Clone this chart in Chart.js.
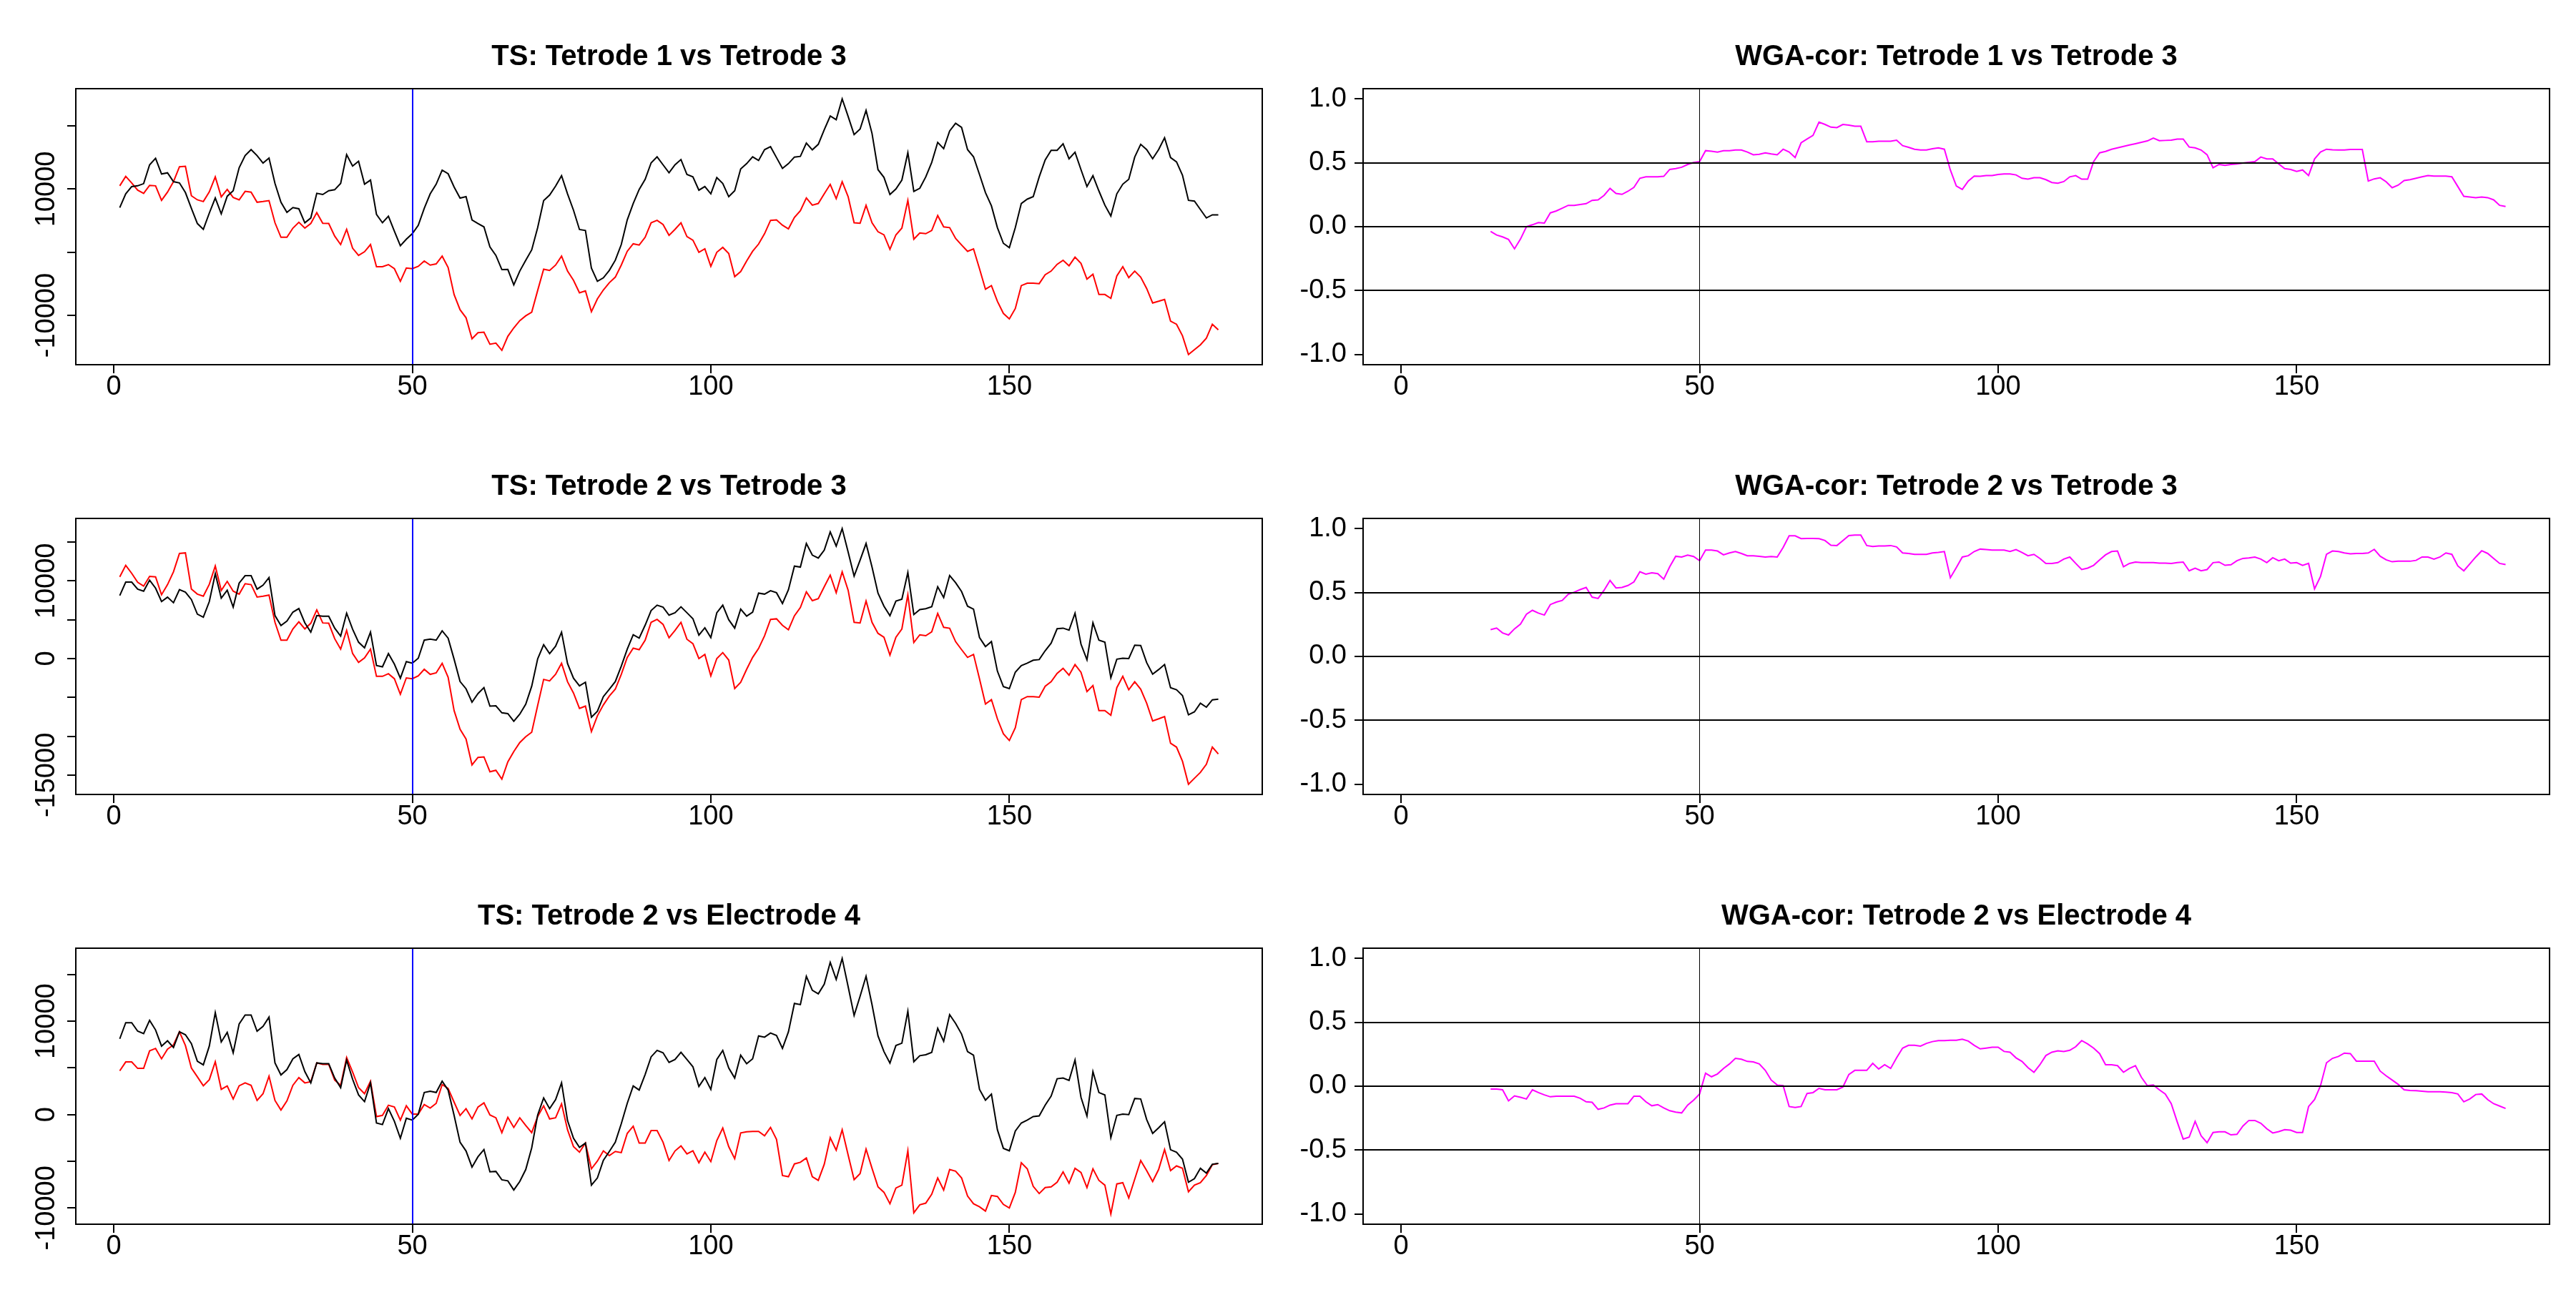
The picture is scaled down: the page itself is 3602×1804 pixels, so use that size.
<!DOCTYPE html>
<html lang="en">
<head>
<meta charset="UTF-8">
<title>TS and WGA-cor: tetrodes</title>
<script src="https://cdn.jsdelivr.net/npm/chart.js"></script>
<style>
  html, body { margin: 0; padding: 0; background: #fff; }
  body { width: 3602px; height: 1804px; position: relative; overflow: hidden; }
  .panel { position: absolute; width: 1801px; height: 601px; }
</style>
</head>
<body>
<div class="panel" style="left:0px;top:0px"><canvas id="ts1" width="1801" height="601"></canvas></div>
<div class="panel" style="left:1800px;top:0px"><canvas id="wga1" width="1801" height="601"></canvas></div>
<div class="panel" style="left:0px;top:601px"><canvas id="ts2" width="1801" height="601"></canvas></div>
<div class="panel" style="left:1800px;top:601px"><canvas id="wga2" width="1801" height="601"></canvas></div>
<div class="panel" style="left:0px;top:1202px"><canvas id="ts3" width="1801" height="601"></canvas></div>
<div class="panel" style="left:1800px;top:1202px"><canvas id="wga3" width="1801" height="601"></canvas></div>

<script>
// raw signals, time index 1..185
const tetrode1 = [
  7070, 9250, 10400, 10520, 10860, 13840, 14880, 12390, 12580, 11170,
  10980, 9450, 6960, 4550, 3630, 6200, 8600, 6080, 8870, 9750,
  13380, 15300, 16250, 15300, 14110, 14910, 10900, 7920, 6310, 7070,
  6880, 4670, 5430, 9330, 9140, 9750, 9900, 10900, 15450, 13650,
  14420, 10780, 11430, 6000, 4670, 5700, 3330, 1030, 2070, 2940,
  4280, 6960, 9250, 10780, 13000, 12430, 10330, 8570, 8800, 5120,
  4550, 4020, 840, -500, -2750, -2720, -5160, -2980, -1260, 380,
  3900, 8180, 9060, 10480, 12120, 9250, 6650, 3600, 3440, -2520,
  -4590, -4050, -2870, -1260, 1220, 5120, 7720, 9940, 11550, 14150,
  15110, 13840, 12580, 13840, 14680, 12310, 11930, 9830, 10400, 9250,
  11820, 10900, 8800, 9750, 13190, 14030, 15110, 14530, 16250, 16710,
  14990, 13270, 14030, 15070, 15180, 17280, 16210, 17090, 19390, 21570,
  20990, 24280, 21490, 18620, 19500, 22450, 18810, 13080, 11850, 9140,
  10020, 11430, 15760, 9640, 10130, 11930, 14230, 17400, 16410, 19200,
  20420, 19770, 16250, 15110, 12310, 9450, 7340, 3900, 1420, 730,
  3900, 7720, 8410, 8800, 11930, 14610, 16140, 16140, 17170, 14800,
  15830, 13080, 10400, 12120, 9710, 7460, 5740, 9250, 10780, 11550,
  15070, 17090, 16250, 14800, 16250, 18130, 14990, 14300, 12200, 8220,
  8110, 6770, 5430, 5930, 5930
];
const tetrode2 = [
  8120, 9840, 9840, 8940, 8680, 10100, 9070, 7340, 7910, 7190,
  8870, 8560, 7600, 5720, 5330, 7340, 10930, 7780, 8810, 6620,
  9720, 10670, 10670, 8940, 9460, 10440, 5540, 4250, 4820, 5980,
  6440, 4610, 3400, 5540, 5460, 5460, 3920, 2890, 5850, 3790,
  2110, 1390, 3400, -900, -1060, 640, -720, -2530, -390, -590,
  50, 2370, 2500, 2370, 3580, 2630, -80, -2960, -3890, -5620,
  -4510, -3740, -6130, -6080, -6980, -7090, -8070, -7160, -5880, -3560,
  -30, 1780, 640, 1600, 3400, -640, -2530, -3510, -3040, -7550,
  -6780, -4900, -3940, -2960, -980, 1210, 3070, 2630, 4300, 6190,
  6880, 6620, 5590, 5900, 6670, 5900, 5130, 3020, 3970, 2710,
  5900, 6880, 5000, 3920, 6370, 5460, 5980, 8430, 8300, 8740,
  8480, 7090, 8870, 11910, 11780, 14820, 13320, 12940, 13970, 16310,
  14480, 16730, 13710, 10620, 12680, 14820, 11780, 8430, 6750, 5520,
  7400, 7650, 11080, 5670, 6310, 6420, 6670, 9250, 7860, 10700,
  9770, 8630, 6750, 6370, 2710, 1550, 2190, -1620, -3610, -3870,
  -1750, -900, -590, -210, -130, 1010, 1980, 3840, 3920, 3660,
  5850, 1860, -150, 4610, 2370, 2110, -2470, -80, 50, 0,
  1730, 1680, -520, -2010, -1420, -770, -3760, -4020, -4770, -7240,
  -6860, -5750, -6260, -5310, -5230
];
const tetrode3 = [
  10520, 12010, 10980, 9830, 9330, 10590, 10520, 8220, 9520, 11170,
  13540, 13610, 8950, 8300, 8030, 9560, 11930, 8760, 9940, 8680,
  8300, 9640, 9520, 7920, 8030, 8180, 4670, 2370, 2370, 3820,
  4740, 3820, 4550, 6270, 4590, 4550, 2560, 1220, 3630, 650,
  -500, 80, 1220, -2290, -2290, -1950, -2600, -4590, -2490, -2600,
  -2220, -1380, -2030, -1840, -610, -2410, -6690, -9100, -10360, -13690,
  -12730, -12660, -14570, -14380, -15530, -13310, -11970, -10820, -10060, -9480,
  -6040, -2680, -2870, -2030, -610, -2980, -4440, -6420, -6120, -9410,
  -7380, -5970, -4820, -3940, -2030, 150, 1340, 1150, 2370, 4670,
  5050, 4400, 2680, 3630, 4670, 2490, 1910, 0, 540, -2220,
  0, 770, -190, -3860, -3060, -1380, 150, 1300, 2940, 5050,
  5120, 4280, 3710, 5510, 6580, 8600, 7460, 7720, 9250, 10750,
  8490, 11170, 8800, 4670, 4590, 7420, 4670, 3250, 2750, 460,
  2750, 3820, 8220, 2070, 3060, 2940, 3440, 5810, 4020, 3900,
  2180, 1150, 150, 540, -2600, -5850, -5280, -7760, -9680, -10550,
  -8910, -5280, -4900, -4900, -4970, -3560, -2980, -1910, -1260, -2140,
  -770, -1760, -4250, -3480, -6690, -6690, -7300, -3750, -2290, -4020,
  -2980, -3940, -5740, -8030, -7760, -7460, -10900, -11400, -13230, -16180,
  -15410, -14650, -13610, -11400, -12280
];
const electrode4 = [
  4690, 5640, 5640, 4950, 4950, 6830, 7090, 5980, 7010, 7470,
  8870, 7400, 5000, 4050, 3090, 3740, 5670, 2710, 3070, 1680,
  3090, 3400, 3140, 1520, 2240, 4120, 1520, 490, 1470, 3140,
  3970, 3400, 3530, 5540, 5390, 5390, 3710, 3140, 6110, 4560,
  2890, 2240, 3580, -210, -80, 1010, 820, -590, 950, 50,
  50, 1080, 700, 1210, 3220, 2810, 1340, -80, 640, -460,
  820, 1260, -30, -340, -1930, -280, -1370, -340, -1160, -1930,
  -210, 950, -460, -340, 1160, -1620, -3430, -4020, -3040, -5800,
  -4970, -3890, -4380, -3940, -4070, -2010, -1240, -3040, -3040, -1700,
  -1700, -2960, -4920, -3890, -3350, -4200, -3870, -5150, -4020, -5030,
  -2780, -1440, -3430, -4720, -1960, -1830, -1800, -1800, -2270, -1370,
  -2650, -6520, -6650, -5280, -5100, -4640, -6650, -7040, -5310, -2470,
  -3810, -1620, -4330, -6960, -6310, -3690, -5750, -7730, -8320, -9540,
  -7860, -7550, -3870, -10510, -9660, -9480, -8530, -6780, -8070, -5880,
  -6060, -6780, -8710, -9540, -9870, -10330, -8660, -8760, -9610, -10000,
  -8320, -5150, -5800, -7680, -8450, -7810, -7730, -7240, -6130, -7340,
  -5750, -6190, -7810, -5800, -7040, -7550, -10640, -7420, -7290, -8920,
  -6910, -4920, -6000, -7160, -5880, -3740, -6000, -5490, -5750, -8270,
  -7550, -7290, -6520, -5360, -5230
];

// windowed correlation, time index 15..185
const wgaT1T3 = [
  -0.037, -0.065, -0.08, -0.10, -0.173, -0.097, 0.0, 0.015, 0.032, 0.028,
  0.108, 0.123, 0.145, 0.167, 0.167, 0.173, 0.18, 0.206, 0.21, 0.245,
  0.30, 0.26, 0.253, 0.277, 0.307, 0.379, 0.39, 0.39, 0.39, 0.394,
  0.448, 0.455, 0.465, 0.487, 0.502, 0.509, 0.595, 0.59, 0.584, 0.595,
  0.595, 0.60, 0.60, 0.584, 0.563, 0.567, 0.578, 0.569, 0.563, 0.606,
  0.584, 0.541, 0.656, 0.686, 0.714, 0.818, 0.80, 0.779, 0.775, 0.80,
  0.794, 0.786, 0.786, 0.665, 0.665, 0.669, 0.669, 0.669, 0.677, 0.634,
  0.621, 0.606, 0.60, 0.60, 0.61, 0.617, 0.606, 0.444, 0.318, 0.292,
  0.357, 0.396, 0.394, 0.40, 0.40, 0.409, 0.413, 0.413, 0.405, 0.379,
  0.372, 0.383, 0.383, 0.368, 0.346, 0.34, 0.353, 0.39, 0.40, 0.372,
  0.372, 0.509, 0.578, 0.589, 0.606, 0.617, 0.628, 0.639, 0.649, 0.66,
  0.671, 0.693, 0.673, 0.675, 0.677, 0.686, 0.686, 0.623, 0.617, 0.60,
  0.563, 0.461, 0.487, 0.48, 0.487, 0.491, 0.498, 0.504, 0.509, 0.545,
  0.53, 0.53, 0.491, 0.455, 0.448, 0.433, 0.444, 0.40, 0.53, 0.584,
  0.606, 0.602, 0.60, 0.60, 0.604, 0.604, 0.604, 0.357, 0.374, 0.383,
  0.351, 0.305, 0.325, 0.361, 0.368, 0.379, 0.39, 0.40, 0.396, 0.396,
  0.396, 0.39, 0.314, 0.238, 0.232, 0.227, 0.232, 0.227, 0.21, 0.167,
  0.158
];
const wgaT2T3 = [
  0.21, 0.222, 0.184, 0.168, 0.216, 0.253, 0.33, 0.361, 0.339, 0.324,
  0.406, 0.425, 0.438, 0.486, 0.503, 0.523, 0.54, 0.464, 0.454, 0.518,
  0.594, 0.536, 0.54, 0.555, 0.583, 0.663, 0.644, 0.654, 0.648, 0.605,
  0.702, 0.784, 0.778, 0.793, 0.782, 0.749, 0.832, 0.832, 0.825, 0.795,
  0.81, 0.821, 0.806, 0.788, 0.788, 0.784, 0.778, 0.782, 0.778, 0.853,
  0.944, 0.944, 0.922, 0.924, 0.924, 0.922, 0.907, 0.87, 0.868, 0.907,
  0.946, 0.95, 0.95, 0.868, 0.86, 0.864, 0.864, 0.868, 0.857, 0.81,
  0.806, 0.799, 0.799, 0.799, 0.81, 0.814, 0.821, 0.616, 0.695, 0.778,
  0.788, 0.821, 0.84, 0.836, 0.832, 0.832, 0.832, 0.821, 0.836, 0.814,
  0.788, 0.799, 0.767, 0.728, 0.728, 0.734, 0.762, 0.778, 0.728, 0.68,
  0.691, 0.713, 0.756, 0.795, 0.821, 0.825, 0.702, 0.728, 0.739, 0.734,
  0.734, 0.734, 0.73, 0.73, 0.728, 0.734, 0.739, 0.67, 0.691, 0.67,
  0.68, 0.734, 0.739, 0.713, 0.717, 0.749, 0.767, 0.771, 0.778, 0.762,
  0.734, 0.773, 0.749, 0.762, 0.73, 0.734, 0.713, 0.728, 0.529, 0.626,
  0.799, 0.825, 0.821, 0.81, 0.803, 0.806, 0.806, 0.81, 0.838, 0.784,
  0.756, 0.741, 0.745, 0.745, 0.745, 0.752, 0.778, 0.778, 0.762, 0.778,
  0.81, 0.799, 0.708, 0.67, 0.724, 0.778, 0.827, 0.806, 0.767, 0.728,
  0.719
];
const wgaT2E4 = [
  -0.022, -0.022, -0.028, -0.115, -0.076, -0.087, -0.10, -0.028, -0.05, -0.068,
  -0.083, -0.078, -0.078, -0.078, -0.078, -0.094, -0.122, -0.126, -0.181, -0.17,
  -0.148, -0.137, -0.137, -0.137, -0.078, -0.078, -0.122, -0.153, -0.144, -0.17,
  -0.192, -0.203, -0.209, -0.148, -0.109, -0.061, 0.102, 0.074, 0.096, 0.139,
  0.174, 0.218, 0.211, 0.194, 0.19, 0.174, 0.124, 0.048, 0.009, 0.004,
  -0.159, -0.166, -0.159, -0.057, -0.05, -0.017, -0.028, -0.028, -0.028, -0.007,
  0.092, 0.124, 0.124, 0.124, 0.179, 0.135, 0.168, 0.139, 0.222, 0.298,
  0.32, 0.32, 0.314, 0.335, 0.349, 0.357, 0.357, 0.359, 0.359, 0.368,
  0.353, 0.32, 0.292, 0.298, 0.305, 0.305, 0.272, 0.266, 0.222, 0.194,
  0.146, 0.109, 0.168, 0.24, 0.266, 0.277, 0.272, 0.281, 0.309, 0.357,
  0.331, 0.298, 0.255, 0.168, 0.168, 0.161, 0.109, 0.139, 0.161, 0.07,
  0.004, 0.009, -0.028, -0.061, -0.137, -0.279, -0.414, -0.399, -0.275, -0.388,
  -0.442, -0.362, -0.357, -0.357, -0.381, -0.377, -0.312, -0.268, -0.268, -0.29,
  -0.333, -0.366, -0.355, -0.34, -0.344, -0.362, -0.362, -0.159, -0.105, 0.004,
  0.183, 0.218, 0.233, 0.259, 0.255, 0.196, 0.196, 0.196, 0.196, 0.118,
  0.081, 0.048, 0.015, -0.028, -0.033, -0.035, -0.039, -0.044, -0.044, -0.044,
  -0.046, -0.05, -0.061, -0.122, -0.1, -0.065, -0.061, -0.105, -0.137, -0.155,
  -0.174
];

// axis ticks and labels
const xTicks = [0, 50, 100, 150];
const ts1Ticks = [-10000, 0, 10000, 20000];
const ts1Labels = ['-10000', '', '10000', ''];
const ts2Ticks = [-15000, -10000, -5000, 0, 5000, 10000, 15000];
const ts2Labels = ['-15000', '', '', '0', '', '10000', ''];
const ts3Ticks = [-10000, -5000, 0, 5000, 10000, 15000];
const ts3Labels = ['-10000', '', '0', '', '10000', ''];
const wgaTicks = [-1, -0.5, 0, 0.5, 1];
const wgaLabels = ['-1.0', '-0.5', '0.0', '0.5', '1.0'];
const wgaRefLines = [-0.5, 0, 0.5];
const markTime = 50;

const FONT = '"Liberation Sans", Arial, Helvetica, sans-serif';
Chart.defaults.font.family = FONT;
Chart.defaults.color = '#000';

const tsTime = tetrode1.map((v, i) => i + 1);
const wgaTime = wgaT1T3.map((v, i) => i + 15);

function line(values, times, color) {
  return {
    data: values.map((v, i) => ({ x: times[i], y: v })),
    borderColor: color,
    borderWidth: 2,
    pointRadius: 0,
    fill: false,
    tension: 0
  };
}

// R style: data range plus 4% each side
function rRange(...arrs) {
  const all = [].concat(...arrs);
  const lo = Math.min(...all), hi = Math.max(...all);
  const d = (hi - lo) * 0.04;
  return [lo - d, hi + d];
}
const xRange = rRange([1, tsTime.length]);

// keep straight lines on whole pixels so they stay crisp
function snap(p, w) {
  return w % 2 ? Math.floor(p) + 0.5 : Math.round(p);
}

const panelPlugin = {
  id: 'panel',
  afterDatasetsDraw(chart, args, o) {
    const { ctx, chartArea: a } = chart;
    const x = chart.scales.x, y = chart.scales.y;
    ctx.save();
    ctx.strokeStyle = '#000';
    ctx.lineWidth = 2;
    (o.hLines || []).forEach(v => {
      const py = snap(y.getPixelForValue(v), 2);
      ctx.beginPath(); ctx.moveTo(a.left, py); ctx.lineTo(a.right, py); ctx.stroke();
    });
    const px = snap(x.getPixelForValue(markTime), o.vWidth);
    ctx.strokeStyle = o.vColor;
    ctx.lineWidth = o.vWidth;
    ctx.beginPath(); ctx.moveTo(px, a.top); ctx.lineTo(px, a.bottom); ctx.stroke();
    ctx.restore();
  },
  afterDraw(chart, args, o) {
    const { ctx, chartArea: a } = chart;
    ctx.save();
    ctx.strokeStyle = '#000';
    ctx.lineWidth = 2;
    ctx.strokeRect(a.left, a.top, a.right - a.left, a.bottom - a.top);
    ctx.fillStyle = '#000';
    ctx.font = 'bold 40px ' + FONT;
    ctx.textAlign = 'center';
    ctx.textBaseline = 'alphabetic';
    ctx.fillText(o.title, (a.left + a.right) / 2, 91);
    if (o.sideLabels) {
      // labels parallel to the axis, like R's las = 0
      const y = chart.scales.y;
      ctx.font = '38px ' + FONT;
      ctx.textBaseline = 'middle';
      y.ticks.forEach((t, i) => {
        const lab = o.sideLabels[i];
        if (!lab) return;
        ctx.save();
        ctx.translate(a.left - 40, y.getPixelForValue(t.value));
        ctx.rotate(-Math.PI / 2);
        ctx.fillText(lab, 0, 0);
        ctx.restore();
      });
    }
    ctx.restore();
  }
};

function makePanel(id, cfg) {
  const isWga = cfg.kind === 'wga';
  new Chart(document.getElementById(id), {
    type: 'line',
    data: { datasets: cfg.datasets },
    options: {
      responsive: false,
      animation: false,
      devicePixelRatio: 1,
      events: [],
      layout: { padding: { left: 0, top: 124, right: 36, bottom: 0 } },
      plugins: {
        legend: { display: false },
        tooltip: { enabled: false },
        panel: {
          title: cfg.title,
          hLines: isWga ? wgaRefLines : [],
          vColor: isWga ? '#000' : '#0000ff',
          vWidth: isWga ? 1 : 2,
          sideLabels: isWga ? null : cfg.yLabels
        }
      },
      scales: {
        x: {
          type: 'linear',
          bounds: 'data',
          min: xRange[0],
          max: xRange[1],
          afterBuildTicks: s => { s.ticks = xTicks.map(v => ({ value: v })); },
          afterFit: s => { s.height = 91; },
          border: { display: false },
          grid: { drawOnChartArea: false, drawTicks: true, tickLength: 12, color: '#000', lineWidth: 2 },
          ticks: {
            autoSkip: false, maxRotation: 0, padding: 1, color: '#000',
            font: { size: 38, lineHeight: 1 },
            callback: v => String(v)
          }
        },
        y: {
          type: 'linear',
          bounds: 'data',
          min: cfg.yRange[0],
          max: cfg.yRange[1],
          afterBuildTicks: s => { s.ticks = cfg.yTicks.map(v => ({ value: v })); },
          afterFit: s => { s.width = 106; },
          border: { display: false },
          grid: { drawOnChartArea: false, drawTicks: true, tickLength: 12, color: '#000', lineWidth: 2 },
          ticks: {
            display: isWga, autoSkip: false, padding: 11, color: '#000',
            font: { size: 38, lineHeight: 1 },
            callback: (v, i) => cfg.yLabels[i]
          }
        }
      }
    },
    plugins: [panelPlugin]
  });
}

makePanel('ts1', {
  title: 'TS: Tetrode 1 vs Tetrode 3', kind: 'ts',
  datasets: [line(tetrode1, tsTime, '#000000'), line(tetrode3, tsTime, '#ff0000')],
  yRange: rRange(tetrode1, tetrode3), yTicks: ts1Ticks, yLabels: ts1Labels
});
makePanel('ts2', {
  title: 'TS: Tetrode 2 vs Tetrode 3', kind: 'ts',
  datasets: [line(tetrode2, tsTime, '#000000'), line(tetrode3, tsTime, '#ff0000')],
  yRange: rRange(tetrode2, tetrode3), yTicks: ts2Ticks, yLabels: ts2Labels
});
makePanel('ts3', {
  title: 'TS: Tetrode 2 vs Electrode 4', kind: 'ts',
  datasets: [line(tetrode2, tsTime, '#000000'), line(electrode4, tsTime, '#ff0000')],
  yRange: rRange(tetrode2, electrode4), yTicks: ts3Ticks, yLabels: ts3Labels
});
makePanel('wga1', {
  title: 'WGA-cor: Tetrode 1 vs Tetrode 3', kind: 'wga',
  datasets: [line(wgaT1T3, wgaTime, '#ff00ff')],
  yRange: rRange([-1, 1]), yTicks: wgaTicks, yLabels: wgaLabels
});
makePanel('wga2', {
  title: 'WGA-cor: Tetrode 2 vs Tetrode 3', kind: 'wga',
  datasets: [line(wgaT2T3, wgaTime, '#ff00ff')],
  yRange: rRange([-1, 1]), yTicks: wgaTicks, yLabels: wgaLabels
});
makePanel('wga3', {
  title: 'WGA-cor: Tetrode 2 vs Electrode 4', kind: 'wga',
  datasets: [line(wgaT2E4, wgaTime, '#ff00ff')],
  yRange: rRange([-1, 1]), yTicks: wgaTicks, yLabels: wgaLabels
});
</script>
</body>
</html>
